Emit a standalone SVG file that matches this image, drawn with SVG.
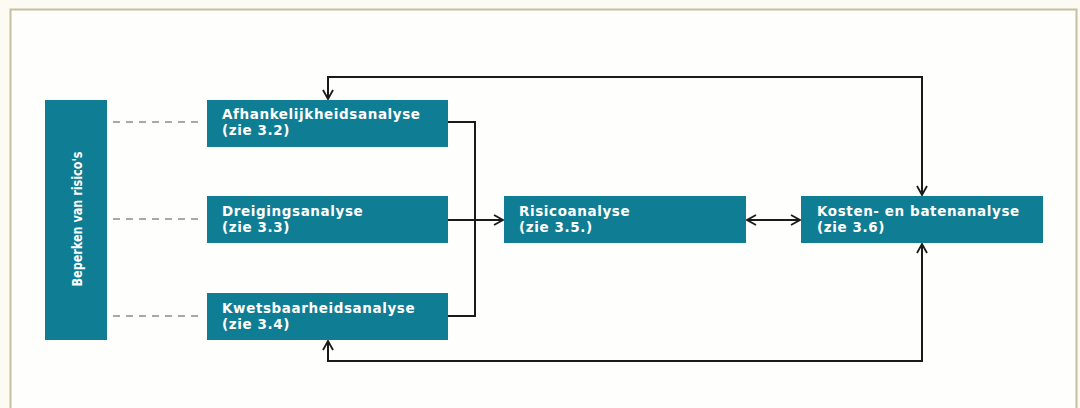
<svg xmlns="http://www.w3.org/2000/svg" width="1080" height="408" viewBox="0 0 1080 408">
<style>
.box{fill:#0f7d93}
.t{font-family:"DejaVu Sans","Liberation Sans",sans-serif;font-weight:bold;font-size:13.5px;letter-spacing:0.6px;fill:#ffffff}
.c{fill:none;stroke:#1a1a1a;stroke-width:2}
.d{fill:none;stroke:#8c8c8c;stroke-width:1.6;stroke-dasharray:7 6}
</style>
<defs>
<marker id="ah" viewBox="0 0 12 12" refX="11" refY="6" markerWidth="12" markerHeight="12" markerUnits="userSpaceOnUse" orient="auto-start-reverse">
<path d="M2,1 L11,6 L2,11" fill="none" stroke="#1a1a1a" stroke-width="1.8"/>
</marker>
</defs>
<rect x="0" y="0" width="1080" height="408" fill="#fbfaf3"/>
<path d="M10.5,420 V9.5 H1076.5 V420" fill="#fefefd" stroke="#c6bf9f" stroke-width="2"/>
<g id="connectors">
<line class="d" x1="113" y1="122" x2="204" y2="122"/>
<line class="d" x1="113" y1="219" x2="204" y2="219"/>
<line class="d" x1="113" y1="316" x2="204" y2="316"/>
<line x1="97" y1="219" x2="107" y2="219" stroke="#1a3a40" stroke-width="1.6"/>
<path class="c" d="M448,122 H475 V316 H448"/>
<path class="c" d="M448,220 H503" marker-end="url(#ah)"/>
<path class="c" d="M747,220 H800" marker-start="url(#ah)" marker-end="url(#ah)"/>
<path class="c" d="M328,99 V77 H922 V195" marker-start="url(#ah)" marker-end="url(#ah)"/>
<path class="c" d="M328,341 V361 H922 V244" marker-start="url(#ah)" marker-end="url(#ah)"/>
</g>
<g id="beperken">
<rect class="box" x="45" y="100" width="62" height="240"/>
<text class="t" transform="translate(82,219) rotate(-90)" text-anchor="middle" textLength="135" lengthAdjust="spacingAndGlyphs" style="font-size:14.5px;letter-spacing:0">Beperken van risico's</text>
</g>
<g id="afhankelijkheid">
<rect class="box" x="207" y="100" width="241" height="47"/>
<text class="t" x="222" y="119">Afhankelijkheidsanalyse</text>
<text class="t" x="222" y="135">(zie 3.2)</text>
</g>
<g id="dreiging">
<rect class="box" x="207" y="196" width="241" height="47"/>
<text class="t" x="222" y="216">Dreigingsanalyse</text>
<text class="t" x="222" y="232">(zie 3.3)</text>
</g>
<g id="kwetsbaarheid">
<rect class="box" x="207" y="293" width="241" height="47"/>
<text class="t" x="222" y="313">Kwetsbaarheidsanalyse</text>
<text class="t" x="222" y="329">(zie 3.4)</text>
</g>
<g id="risico">
<rect class="box" x="504" y="196" width="242" height="47"/>
<text class="t" x="519" y="216">Risicoanalyse</text>
<text class="t" x="519" y="232">(zie 3.5.)</text>
</g>
<g id="kosten">
<rect class="box" x="801" y="196" width="242" height="47"/>
<text class="t" x="817" y="216">Kosten- en batenanalyse</text>
<text class="t" x="817" y="232">(zie 3.6)</text>
</g>
</svg>
